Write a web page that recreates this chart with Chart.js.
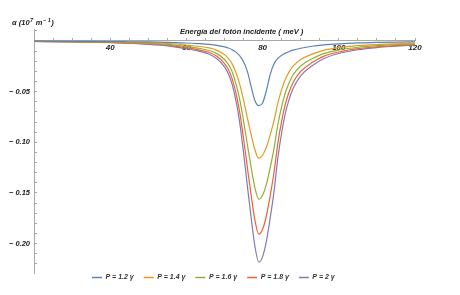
<!DOCTYPE html>
<html><head><meta charset="utf-8">
<script src="https://cdn.jsdelivr.net/npm/chart.js@4.4.1/dist/chart.umd.min.js"></script>
<style>html,body{margin:0;padding:0;background:#fff}canvas{display:block}</style>
</head><body>
<canvas id="c" width="460" height="295"></canvas>
<script>
// Photon energy (meV)
const energy = [20,30,40,45,50,55,60,63,66,68,70,71,72,73,74,75,76,77,78,79,80,81,82,83,84,85,86,87,88,90,93,96,100,105,110,115,120];
// Absorption coefficient alpha (10^7 m^-1)
const p12 = [-0.0002,-0.0004,-0.0006,-0.0008,-0.0010,-0.0014,-0.0020,-0.0026,-0.0034,-0.0043,-0.0058,-0.0070,-0.0086,-0.0110,-0.0148,-0.0205,-0.0300,-0.0450,-0.0590,-0.0638,-0.0612,-0.0490,-0.0330,-0.0225,-0.0172,-0.0142,-0.0120,-0.0104,-0.0091,-0.0072,-0.0052,-0.0039,-0.0028,-0.0019,-0.0014,-0.0011,-0.0009];
const p14 = [-0.0003,-0.0005,-0.0009,-0.0013,-0.0017,-0.0025,-0.0040,-0.0052,-0.0069,-0.0093,-0.0135,-0.0171,-0.0226,-0.0312,-0.0428,-0.0584,-0.0758,-0.0926,-0.1076,-0.1157,-0.1128,-0.1047,-0.0926,-0.0787,-0.0613,-0.0480,-0.0376,-0.0303,-0.0249,-0.0183,-0.0130,-0.0093,-0.0066,-0.0046,-0.0035,-0.0028,-0.0022];
const p16 = [-0.0004,-0.0007,-0.0012,-0.0017,-0.0023,-0.0034,-0.0055,-0.0070,-0.0094,-0.0125,-0.0183,-0.0231,-0.0304,-0.0421,-0.0578,-0.0788,-0.1022,-0.1249,-0.1452,-0.1561,-0.1522,-0.1413,-0.1249,-0.1061,-0.0827,-0.0648,-0.0507,-0.0409,-0.0336,-0.0247,-0.0175,-0.0125,-0.0089,-0.0062,-0.0047,-0.0037,-0.0030];
const p18 = [-0.0005,-0.0009,-0.0015,-0.0021,-0.0029,-0.0042,-0.0067,-0.0086,-0.0114,-0.0152,-0.0223,-0.0282,-0.0372,-0.0515,-0.0705,-0.0963,-0.1248,-0.1525,-0.1773,-0.1906,-0.1858,-0.1725,-0.1525,-0.1296,-0.1010,-0.0791,-0.0619,-0.0499,-0.0410,-0.0301,-0.0213,-0.0152,-0.0109,-0.0076,-0.0057,-0.0046,-0.0036];
const p20 = [-0.0005,-0.0010,-0.0017,-0.0024,-0.0033,-0.0048,-0.0076,-0.0098,-0.0131,-0.0175,-0.0255,-0.0323,-0.0426,-0.0589,-0.0808,-0.1102,-0.1430,-0.1746,-0.2030,-0.2183,-0.2128,-0.1976,-0.1746,-0.1484,-0.1157,-0.0906,-0.0709,-0.0572,-0.0469,-0.0345,-0.0244,-0.0175,-0.0124,-0.0087,-0.0065,-0.0052,-0.0041];
const seriesLabels = ['P = 1.2 γ','P = 1.4 γ','P = 1.6 γ','P = 1.8 γ','P = 2 γ'];
const seriesValues = [p12,p14,p16,p18,p20];
const seriesColors = ['#5E81B5','#E19C24','#8FB032','#EB6235','#8778B3'];
const xTickLabels = [40,60,80,100,120];
const yTickLabels = [-0.05,-0.10,-0.15,-0.20];

const FONT = "'Liberation Sans', Arial, sans-serif";

const datasets = seriesValues.map((vals,i)=>({
  label: seriesLabels[i],
  data: energy.map((e,j)=>({x:e,y:vals[j]})),
  borderColor: seriesColors[i],
  backgroundColor: seriesColors[i],
  pointBorderColor: seriesColors[i],
  pointBackgroundColor: seriesColors[i],
  pointBorderWidth: 1.3,
  borderWidth: 1.2,
  pointRadius: 0,
  fill: false,
  cubicInterpolationMode: 'monotone'
}));

const titles = {
  id:'axisTitles',
  afterDraw(chart){
    const ctx = chart.ctx; ctx.save();
    ctx.fillStyle = '#222';
    const f = s => `italic bold ${s}px ${FONT}`;
    ctx.textBaseline = 'alphabetic';
    let x = 12; const y = 25;
    const parts = [['α (10',7.5,0],['7',5.5,-3.5],[' m',7.5,0],['− 1',5.5,-3.5],[')',7.5,0]];
    for (const [t,s,dy] of parts){ ctx.font=f(s); ctx.fillText(t,x,y+dy); x+=ctx.measureText(t).width+0.5; }
    ctx.font = f(7.5); ctx.textBaseline='middle';
    ctx.fillText('Energía del fotón incidente ( meV )', 180, 31.5);
    ctx.restore();
  }
};

const legendShift = {
  id:'legendShift',
  afterLayout(chart){
    const lg = chart.legend; if(!lg || !lg.lineWidths) return;
    const p = 10, fs = 7;
    const x0 = (lg.left + p + lg.right - lg.lineWidths[0]) / 2;
    const dx = 92 - x0;
    lg.left += dx; lg.right += dx;
    const ty = lg.top + p + fs/2;
    const dy = 277.5 - ty;
    lg.top += dy; lg.bottom += dy;
  }
};

new Chart(document.getElementById('c'), {
  type:'line',
  data:{datasets},
  options:{
    responsive:false,
    animation:false,
    devicePixelRatio:1,
    layout:{padding:{left:4,right:45,top:29,bottom:-5}},
    plugins:{
      tooltip:{enabled:false},
      legend:{
        position:'bottom',
        labels:{
          usePointStyle:true, pointStyle:'line', pointStyleWidth:10,
          padding:10, color:'#333',
          font:{family:FONT, size:7, style:'italic', weight:'bold'}
        }
      }
    },
    scales:{
      x:{
        type:'linear', min:20, max:120,
        position:{y:0},
        border:{display:true, color:'#a8a8a8', width:1},
        grid:{drawOnChartArea:false, drawTicks:true, tickLength:-3, color:'#a8a8a8'},
        ticks:{
          stepSize:5, autoSkip:false, maxRotation:0, padding:5, color:'#222',
          font:{family:FONT, size:8, style:'italic', weight:'bold'},
          callback:v=> xTickLabels.includes(v) ? String(v) : ''
        }
      },
      y:{
        type:'linear', min:-0.229, max:0.0118,
        border:{display:true, color:'#a8a8a8', width:1},
        grid:{drawOnChartArea:false, drawTicks:true, tickLength:-3, color:'#a8a8a8'},
        afterFit:s=>{ s.width = 30; },
        ticks:{
          stepSize:0.01, includeBounds:false, autoSkip:false, padding:7, color:'#222',
          font:{family:FONT, size:7.5, style:'italic', weight:'bold'},
          callback:v=>{
            const r = Math.round(v*100)/100;
            return yTickLabels.some(t=>Math.abs(t-r)<1e-9) ? '− ' + Math.abs(r).toFixed(2) : '';
          }
        }
      }
    }
  },
  plugins:[titles, legendShift]
});
</script>
</body></html>
